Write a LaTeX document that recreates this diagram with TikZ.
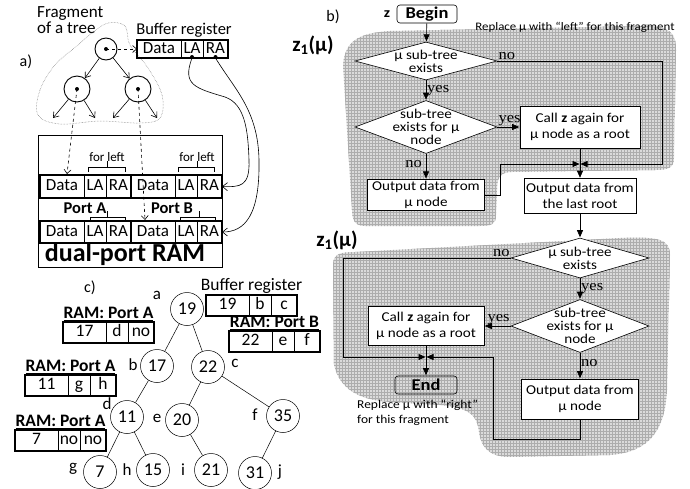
\documentclass[tikz,border=0pt]{standalone}
\usepackage{fontspec}
\setmainfont{Carlito}
\newfontfamily\flowfont{Carlito}[FakeStretch=1.12]
\newfontfamily\yesnofont{Liberation Serif}[FakeStretch=1.1]
\usetikzlibrary{arrows.meta,positioning,shapes.geometric,patterns,calc}
\newcommand{\ramtitle}[1]{\underline{\textbf{RAM: #1}}}
\tikzset{
  cellbox/.style={draw, line width=0.6pt, inner sep=0pt, outer sep=0pt, text height=11.5pt, text depth=3pt, font=\fontsize{17}{17}\selectfont},
  cellc/.style={draw, line width=0.6pt, inner sep=0pt, outer sep=0pt, minimum height=21pt, text height=12pt, text depth=3.5pt, font=\fontsize{17.5}{17.5}\selectfont},
  rowframe/.style={draw, line width=1.4pt},
  tabframe/.style={draw, line width=1.6pt},
  tabtitle/.style={anchor=south, inner sep=1pt, font=\fontsize{17.5}{18}\selectfont},
  fragnode/.style={draw, circle, line width=0.9pt, inner sep=0pt},
  treenode/.style={draw, circle, minimum size=33pt, inner sep=0pt, line width=0.5pt, font=\fontsize{18}{18}\selectfont},
  lbl/.style={font=\fontsize{17}{17}\selectfont, inner sep=0pt},
  treearrow/.style={-{Straight Barb[length=5pt,width=7pt]}, line width=0.6pt},
  ptrarrow/.style={-{Straight Barb[length=4pt,width=7pt]}, line width=0.6pt, dashed},
  curvearrow/.style={-{Straight Barb[length=5pt,width=8pt]}, line width=0.6pt},
  fragshade/.style={preaction={fill=black!14}, pattern=grid, pattern color=black!32},
  flowtext/.style={align=center, inner sep=0pt, font=\flowfont\fontsize{13.5}{13}\selectfont},
  flowbox/.style={draw, fill=white, line width=0.6pt, align=center, inner sep=2pt, font=\flowfont\fontsize{13.5}{16}\selectfont},
  flowdiamond/.style={draw, diamond, fill=white, line width=0.6pt, inner sep=0pt},
  terminal/.style={draw, rounded corners=3pt, line width=0.6pt, inner sep=0pt, font=\flowfont\bfseries\fontsize{16.5}{16.5}\selectfont},
  flowarrow/.style={-{Triangle[length=7pt,width=6pt]}, line width=0.6pt, shorten >=0.5pt},
  flowline/.style={line width=0.6pt},
  yesno/.style={inner sep=1pt, font=\yesnofont\fontsize{15}{15}\selectfont}
}
\begin{document}
\begin{tikzpicture}[x=1pt,y=-1pt]
\useasboundingbox (0,0) rectangle (690,488);

% shaded fragments z1(mu)
\path[fragshade] (343,65) .. controls (345,40) and (360,33) .. (390,31) -- (640,26) .. controls (670,26) and (676,32) .. (676,50) -- (674,158) .. controls (674,168) and (668,170) .. (655,170) -- (512,172) .. controls (500,172) and (497,178) .. (497,190) -- (496,215) .. controls (496,224) and (492,226) .. (480,226) -- (365,226) .. controls (355,226) and (352,220) .. (352,210) -- cycle;
\path[fragshade] (333,265) .. controls (333,254) and (340,252) .. (355,252) -- (620,238) .. controls (660,236) and (670,240) .. (670,255) -- (667,390) .. controls (665,430) and (650,452) .. (610,455) -- (510,457) .. controls (490,457) and (481,448) .. (479,432) .. controls (477,415) and (470,408) .. (440,405) -- (390,402) .. controls (360,400) and (340,390) .. (334,365) -- cycle;

% ---------- a) ----------
\node[font=\fontsize{17}{16}\selectfont, align=left, anchor=north west, inner sep=0pt] (fragtxt) at (37,6) {Fragment\\of a tree};
\node[font=\fontsize{16}{16}\selectfont] (alabel) at (26,62) {a)};
\draw[black!55, densely dotted, line width=0.5pt] plot[smooth cycle, tension=0.6] coordinates {(38,115) (40,90) (55,65) (78,45) (92,33) (108,23) (125,26) (130,45) (148,68) (162,95) (160,118) (140,123) (100,121) (60,124)};
\node[fragnode, minimum size=22pt] (ft) at (106,49) {};
\node[fragnode, minimum size=26pt] (fl) at (77,89) {};
\node[fragnode, minimum size=26pt] (fr) at (138,89) {};
\foreach \c in {ft,fl,fr}{\fill (\c.center) circle (2pt);}
\coordinate (fl1) at (53,118);
\coordinate (fl2) at (95,118);
\coordinate (fr1) at (113,118);
\coordinate (fr2) at (157,118);
\foreach \u/\v in {ft/fl,ft/fr,fl/fl1,fl/fl2,fr/fr1,fr/fr2}{\draw[treearrow] (\u) -- (\v);}

\node[font=\fontsize{16.5}{16}\selectfont] (buftxt) at (184,30) {Buffer register};
\node[draw, line width=1.4pt, minimum width=184pt, minimum height=132pt, anchor=north west, inner sep=0pt] (ram) at (38,135) {};
\foreach \n/\x/\y/\h in {buf/137/40/18, a1/40/175/23, b1/131/175/23, a2/40/221/22, b2/131/221/22}{
  \node[cellbox, minimum width=44pt, minimum height=\h pt, anchor=north west] (\n-d) at (\x,\y) {Data};
  \node[cellbox, minimum width=22pt, minimum height=\h pt, right=0pt of \n-d] (\n-l) {LA};
  \node[cellbox, minimum width=25pt, minimum height=\h pt, right=0pt of \n-l] (\n-r) {RA};
  \draw[rowframe] (\n-d.north west) rectangle (\n-r.south east);
}
\fill ($(buf-l.south)+(0,-1)$) circle (2pt);
\fill ($(buf-r.south)+(0,-1)$) circle (2pt);
\draw[ptrarrow] (ft.center) -- (buf-d.west);
\draw[ptrarrow] (fl.center) -- ($(a1-d.north)+(5,-1)$);
\draw[ptrarrow] (fr.center) -- ($(b2-d.north)+(-8,-1)$);
\draw[curvearrow] (buf-l.south) .. controls (182,85) and (195,88) .. (225,97) .. controls (245,104) and (248,130) .. (249,160) .. controls (250,187) and (240,187) .. (b1-r.east);
\draw[curvearrow] (buf-r.south) .. controls (235,90) and (258,110) .. (259,160) .. controls (260,215) and (245,232) .. (b2-r.east);

% brackets over LA/RA
\foreach \xa/\xm/\xb/\y in {88/107/125/167, 178/197/214/167, 90/107/125/217, 180/199/215/217}{
  \draw[line width=0.6pt] (\xa,\y+5) -- (\xa,\y) -- (\xb,\y) -- (\xb,\y+5) (\xm,\y) -- (\xm,\y-6);
}
\node[font=\fontsize{13}{13}\selectfont] (forl) at (107,157) {for left};
\node[font=\fontsize{13}{13}\selectfont] (forr) at (197,157) {for left};
\node[font=\bfseries\fontsize{16.5}{16}\selectfont] (porta) at (85,208) {Port A};
\node[font=\bfseries\fontsize{16.5}{16}\selectfont] (portb) at (172,208) {Port B};
\node[font=\bfseries\fontsize{26}{26}\selectfont] (ramtxt) at (125,254) {dual-port RAM};

% ---------- c) ----------
\node[font=\fontsize{16}{16}\selectfont] (clabel) at (90,288) {c)};
\node[treenode] (na) at (187,309) {19};
\node[treenode] (nb) at (157,366) {17};
\node[treenode] (nc) at (208,367) {22};
\node[treenode] (nd) at (127,417) {11};
\node[treenode] (ne) at (182,420) {20};
\node[treenode] (nf) at (283,416) {35};
\node[treenode] (ng) at (100,472) {7};
\node[treenode] (nh) at (153,470) {15};
\node[treenode] (ni) at (211,470) {21};
\node[treenode] (nj) at (255,473) {31};
\foreach \u/\v in {na/nb,na/nc,nb/nd,nc/ne,nc/nf,nd/ng,nd/nh,ne/ni,nf/nj}{\draw[line width=0.5pt] (\u) -- (\v);}
\foreach \t/\x/\y in {a/157/295, b/133/365, c/235/363, d/107/404, e/157/418, f/255/415, g/73/469, h/127/470, i/183/470, j/280/472}{
  \node[lbl] (l\t) at (\x,\y) {\t};
}

\foreach \n/\x/\y/\u/\v/\w in {t1/63/322/17/d/no, t2/25/375/11/g/h, t3/15/430/7/no/no, t4/206/295/19/b/c, t5/229/331/22/e/f}{
  \node[cellc, minimum width=43pt, anchor=north west] (\n-a) at (\x,\y) {\u};
  \node[cellc, minimum width=22pt, right=0pt of \n-a] (\n-b) {\v};
  \node[cellc, minimum width=26pt, right=0pt of \n-b] (\n-c) {\w};
  \draw[tabframe] (\n-a.north west) rectangle (\n-c.south east);
}
\node[tabtitle] (t1-title) at ($(t1-a.north west)!.5!(t1-c.north east)$) {\ramtitle{Port A}};
\node[tabtitle] (t2-title) at ($(t2-a.north west)!.5!(t2-c.north east)$) {\ramtitle{Port A}};
\node[tabtitle] (t3-title) at ($(t3-a.north west)!.5!(t3-c.north east)$) {\ramtitle{Port A}};
\node[tabtitle] (t4-title) at ($(t4-a.north west)!.5!(t4-c.north east)$) {Buffer register};
\node[tabtitle] (t5-title) at ($(t5-a.north west)!.5!(t5-c.north east)$) {\ramtitle{Port B}};

% ---------- b) ----------
\node[font=\fontsize{16}{16}\selectfont] (blabel) at (333,17) {b)};
\node[font=\bfseries\fontsize{21}{21}\selectfont] (z1top) at (313,45) {z\textsubscript{1}(μ)};
\node[font=\bfseries\fontsize{21}{21}\selectfont] (z1bot) at (337,240) {z\textsubscript{1}(μ)};
\node[font=\flowfont\fontsize{11.5}{12}\selectfont] (repl) at (575,27) {Replace μ with “left” for this fragment};
\node[font=\flowfont\fontsize{12}{15}\selectfont, align=left, anchor=north west, inner sep=0pt] (repr) at (357,400) {Replace μ with “right”\\for this fragment};

\node[terminal, minimum width=60pt, minimum height=18pt] (begin) at (427,14) {Begin};
\node[font=\flowfont\bfseries\fontsize{14}{14}\selectfont, left=3pt of begin] (zname) {z};
\node[flowdiamond, minimum width=142pt, minimum height=38pt, label={[flowtext]center:μ sub-tree\\exists}] (d1) at (426,61) {};
\node[flowdiamond, minimum width=142pt, minimum height=53pt, label={[flowtext]center:sub-tree\\exists for μ\\node}] (d2) at (426,127) {};
\node[flowbox, minimum width=120pt, minimum height=42pt] (call1) at (580,127) {Call \textbf{z} again for\\μ node as a root};
\node[flowbox, minimum width=117pt, minimum height=30pt] (out1) at (426,195) {Output data from\\μ node};
\node[flowbox, minimum width=111pt, minimum height=35pt] (outlast) at (580,196) {Output data from\\the last root};
\node[flowdiamond, minimum width=138pt, minimum height=40pt, label={[flowtext]center:μ sub-tree\\exists}] (d3) at (580,258) {};
\node[flowdiamond, minimum width=138pt, minimum height=53pt, label={[flowtext]center:sub-tree\\exists for μ\\node}] (d4) at (580,326) {};
\node[flowbox, minimum width=116pt, minimum height=39pt] (call2) at (426,326) {Call \textbf{z} again for\\μ node as a root};
\node[flowbox, minimum width=117pt, minimum height=40pt] (out2) at (580,399) {Output data from\\μ node};
\node[terminal, minimum width=62pt, minimum height=18pt] (endn) at (426,385) {End};

\coordinate (j1) at (580,164);
\coordinate (j2) at (426,357);
\coordinate (k1) at (662,164);
\coordinate (k2) at (500,164);
\coordinate (k3) at (343,357);
\coordinate (k4) at (493,439);

\draw[flowarrow] (begin) -- (d1);
\draw[flowarrow] (d1) -- (d2);
\draw[flowarrow] (d2) -- (call1);
\draw[flowarrow] (d2) -- (out1);
\draw[flowarrow] (d1.east) -| (k1) -- (j1);
\draw[flowarrow] (out1.east) -| (k2) -- (j1);
\draw[flowline] (call1) -- (j1);
\draw[flowarrow] (j1) -- (outlast);
\draw[flowarrow] (outlast) -- (d3);
\draw[flowarrow] (d3.west) -| (k3) -- (j2);
\draw[flowarrow] (d3) -- (d4);
\draw[flowarrow] (d4) -- (call2);
\draw[flowarrow] (d4) -- (out2);
\draw[flowline] (call2) -- (j2);
\draw[flowarrow] (j2) -- (endn);
\draw[flowarrow] (out2.south) |- (k4) |- (j2);

\node[yesno, anchor=south west] (no1) at (d1.east) {no};
\node[yesno, anchor=west] (yes1) at ($(d1.south)!.5!(d2.north)$) {yes};
\node[yesno, anchor=south west] (yes2) at (d2.east) {yes};
\node[yesno, anchor=east, xshift=-3pt] (no2) at ($(d2.south)!.4!(out1.north)$) {no};
\node[yesno, anchor=south east] (no3) at (d3.west) {no};
\node[yesno, anchor=west] (yes3) at ($(d3.south)!.5!(d4.north)$) {yes};
\node[yesno, anchor=south east] (yes4) at (d4.west) {yes};
\node[yesno, anchor=west] (no4) at ($(d4.south)!.4!(out2.north)$) {no};
\end{tikzpicture}
\end{document}
